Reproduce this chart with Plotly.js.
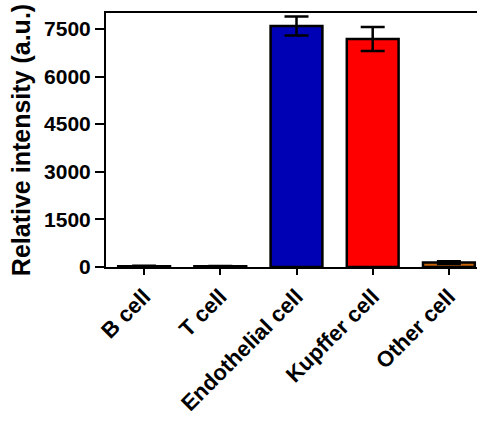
<!DOCTYPE html>
<html>
<head>
<meta charset="utf-8">
<script src="https://cdn.plot.ly/plotly-3.0.1.min.js"></script>
<style>
html,body{margin:0;padding:0;overflow:hidden;background:#fff;}
#chart{width:490px;height:421px;}
</style>
</head>
<body>
<div id="chart"></div>
<script>
const categories = ["B cell", "T cell", "Endothelial cell", "Kupffer cell", "Other cell"];
const values = [25, 20, 7590, 7180, 140];
const errors = [15, 10, 300, 380, 45];
const barColors = ["#ffffff", "#ffffff", "#0000b4", "#ff0000", "#c8640a"];
const yTicks = [0, 1500, 3000, 4500, 6000, 7500];

const font = "Liberation Sans, Arial, sans-serif";

const trace = {
  type: "bar",
  x: categories,
  y: values,
  width: 0.68,
  marker: {color: barColors, line: {color: "#000", width: 2.5}},
  error_y: {type: "data", array: errors, visible: true, color: "#000", thickness: 2.5, width: 12}
};

const layout = {
  width: 490,
  height: 421,
  margin: {l: 106, r: 3, t: 13, b: 154},
  paper_bgcolor: "#fff",
  plot_bgcolor: "#fff",
  showlegend: false,
  font: {family: font, color: "#000"},
  xaxis: {
    type: "category",
    range: [-0.5, 4.5],
    showline: true, linecolor: "#000", linewidth: 2, mirror: true,
    ticks: "outside", ticklen: 6, tickwidth: 2, tickcolor: "#000",
    tickangle: -45,
    tickfont: {family: font, size: 22, weight: "bold", color: "#000"},
    showgrid: false, zeroline: false
  },
  yaxis: {
    range: [0, 8000],
    tickvals: yTicks,
    ticktext: yTicks.map(String),
    showline: true, linecolor: "#000", linewidth: 2,
    ticks: "outside", ticklen: 9, tickwidth: 2, tickcolor: "#000",
    tickfont: {family: font, size: 21, weight: "bold", color: "#000"},
    showgrid: false, zeroline: false,
    title: {text: "Relative intensity (a.u.)", font: {family: font, size: 25, weight: "bold", color: "#000"}, standoff: 6}
  }
};

Plotly.newPlot("chart", [trace], layout, {staticPlot: true, displayModeBar: false});
</script>
</body>
</html>
